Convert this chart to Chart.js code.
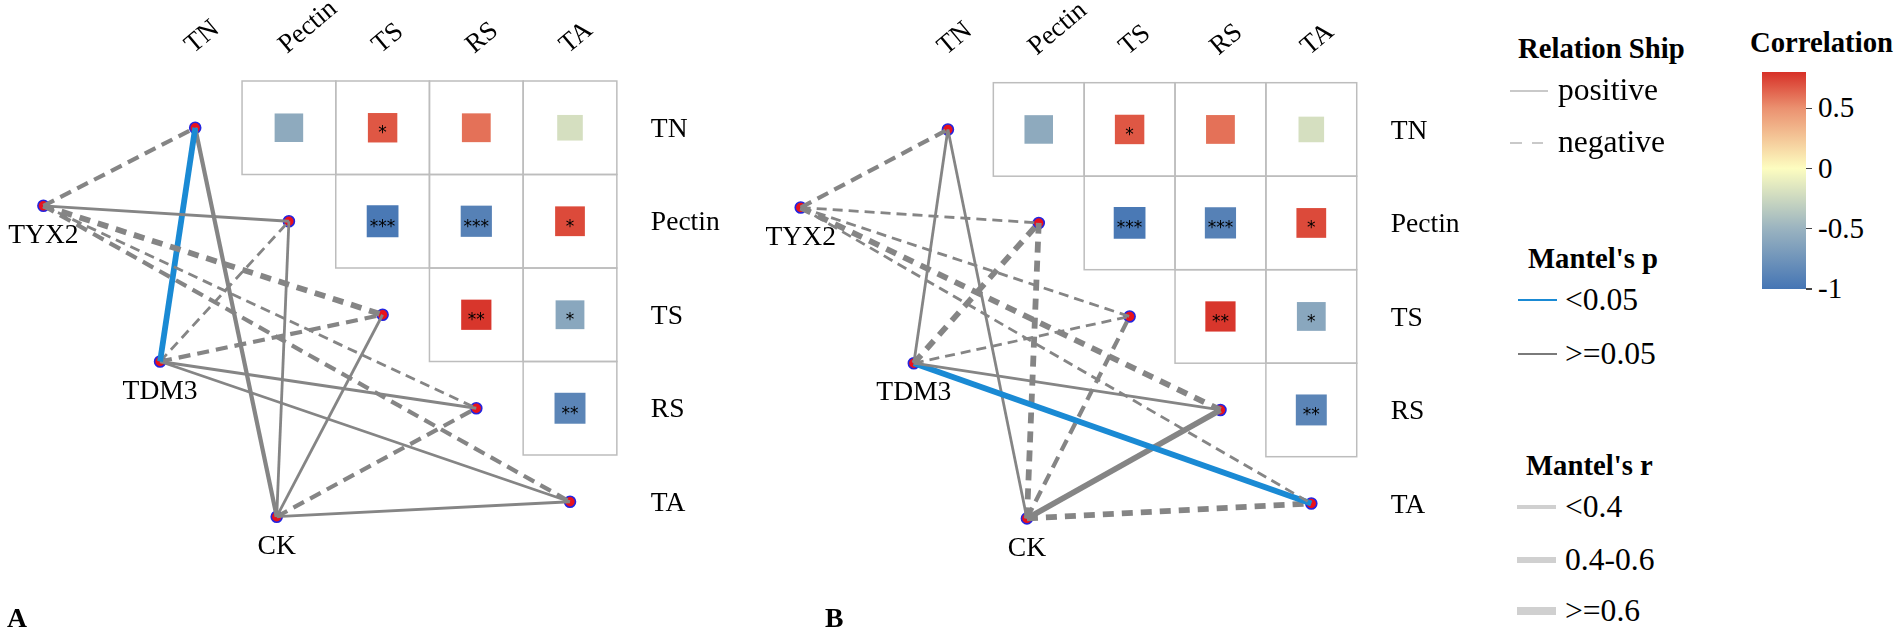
<!DOCTYPE html>
<html>
<head>
<meta charset="utf-8">
<script src="https://cdn.jsdelivr.net/npm/chart.js@4.4.1/dist/chart.umd.min.js"></script>
<style>
  html, body { margin: 0; padding: 0; background: #ffffff; }
  #wrap { position: relative; width: 1902px; height: 632px; overflow: hidden; color: #000; }
  .cv { position: absolute; top: 0; }
  .lg { position: absolute; white-space: nowrap; line-height: 1; }
</style>
</head>
<body>
<div id="wrap">
  <canvas id="chartA" class="cv" width="740" height="632" style="left:0px"></canvas>
  <canvas id="chartB" class="cv" width="776" height="632" style="left:740px"></canvas>
  <div id="legend"></div>
</div>
<script>
// ---------------- DATA ----------------
const variables = ['TN', 'Pectin', 'TS', 'RS', 'TA'];
const groups = ['TYX2', 'TDM3', 'CK'];

// Pairwise correlation between quality traits (rows follow `variables`)
const corrTN     = [ 1.00, -0.57,  0.68,  0.60, -0.20];
const corrPectin = [-0.57,  1.00, -0.97, -0.90,  0.72];
const corrTS     = [ 0.68, -0.97,  1.00,  0.78, -0.60];
const corrRS     = [ 0.60, -0.90,  0.78,  1.00, -0.87];
const corrTA     = [-0.20,  0.72, -0.60, -0.87,  1.00];
const corrRows = [corrTN, corrPectin, corrTS, corrRS, corrTA];

// Significance marks of the correlations
const sigTN     = ['', '', '*', '', ''];
const sigPectin = ['', '', '***', '***', '*'];
const sigTS     = ['', '', '', '**', '*'];
const sigRS     = ['', '', '', '', '**'];
const sigTA     = ['', '', '', '', ''];
const sigRows = [sigTN, sigPectin, sigTS, sigRS, sigTA];

// Mantel tests: r (sign = relationship) and p, group vs TN, Pectin, TS, RS, TA
const mantelR_A_TYX2 = [-0.45,  0.30, -0.65, -0.25, -0.48];
const mantelP_A_TYX2 = [ 0.21,  0.34,  0.12,  0.46,  0.18];
const mantelR_A_TDM3 = [ 0.62, -0.25, -0.45,  0.30,  0.30];
const mantelP_A_TDM3 = [ 0.03,  0.41,  0.22,  0.35,  0.38];
const mantelR_A_CK   = [ 0.42,  0.28,  0.25, -0.45,  0.25];
const mantelP_A_CK   = [ 0.16,  0.39,  0.44,  0.20,  0.42];

const mantelR_B_TYX2 = [-0.45, -0.25, -0.25, -0.62, -0.25];
const mantelP_B_TYX2 = [ 0.19,  0.43,  0.47,  0.11,  0.45];
const mantelR_B_TDM3 = [ 0.25, -0.62, -0.25,  0.25,  0.65];
const mantelP_B_TDM3 = [ 0.38,  0.14,  0.45,  0.40,  0.02];
const mantelR_B_CK   = [ 0.25, -0.65, -0.42,  0.65, -0.65];
const mantelP_B_CK   = [ 0.41,  0.10,  0.17,  0.09,  0.08];

const colorbarTicks = [-1, -0.5, 0, 0.5];
const colorbarRange = [-1, 0.8];

// ---------------- LAYOUT / STYLE ----------------
const groupGridX = [-1.62, -0.375, 0.87];
const groupGridY = [0.835, 2.50, 4.16];

const SERIF_CANDIDATES = ['Liberation Serif', 'Tinos', 'Times New Roman', 'DejaVu Serif'];
const mctx = document.createElement('canvas').getContext('2d');
function hasFont(f) {
  const s = 'mmmmmmmmmmlliWWQ@#';
  mctx.font = '72px monospace'; const a = mctx.measureText(s).width;
  mctx.font = `72px "${f}", monospace`; const b = mctx.measureText(s).width;
  mctx.font = '72px sans-serif'; const c = mctx.measureText(s).width;
  mctx.font = `72px "${f}", sans-serif`; const d = mctx.measureText(s).width;
  return a !== b || c !== d;
}
const foundSerif = SERIF_CANDIDATES.filter(hasFont);
const SERIF = foundSerif.map(f => `"${f}"`).concat(['serif']).join(', ');
function fit(weight, sample, targetW) {
  mctx.font = `${weight} 100px ${SERIF}`;
  return 100 * targetW / mctx.measureText(sample).width;
}
const FS_ROW = fit('normal', 'TDM3', 75);
const FS_COL = fit('normal', 'Pectin', 67);
const FS_LETTER = fit('bold', 'A', 20);
const FS_TITLE = fit('bold', "Mantel's p", 130);
const FS_LABEL = fit('normal', 'negative', 107);
const FS_TICK = fit('normal', '-0.5', 46);

const GRID_COLOR = '#bdbdbd';
const EDGE_GRAY = '#858585';
const EDGE_BLUE = '#1a8ad4';
const NODE_FILL = '#e8121c';
const NODE_EDGE = '#2424e0';
const CORR_STOPS = [[-1, '#4575b4'], [-0.5, '#9ab3c0'], [0, '#fdfdc0'], [0.5, '#eb9170'], [0.8, '#d73027']];

function hex2rgb(h) { return [1, 3, 5].map(k => parseInt(h.substr(k, 2), 16)); }
function colorFor(v) {
  const s = CORR_STOPS;
  if (v <= s[0][0]) return s[0][1];
  for (let k = 1; k < s.length; k++) {
    if (v <= s[k][0]) {
      const t = (v - s[k - 1][0]) / (s[k][0] - s[k - 1][0]);
      const a = hex2rgb(s[k - 1][1]), b = hex2rgb(s[k][1]);
      const c = a.map((av, q) => Math.round(av + (b[q] - av) * t));
      return `rgb(${c[0]},${c[1]},${c[2]})`;
    }
  }
  return s[s.length - 1][1];
}
function widthFor(r) { const a = Math.abs(r); return a < 0.4 ? 2.8 : (a < 0.6 ? 4.2 : 5.8); }
function dashFor(w) { return w < 3 ? [10, 6] : (w < 5 ? [12, 7] : [11, 8]); }
function nodePos(name) {
  const vi = variables.indexOf(name);
  if (vi >= 0) return { x: vi, y: vi };
  const gi = groups.indexOf(name);
  return { x: groupGridX[gi], y: groupGridY[gi] };
}

const PANELS = [
  { id: 'chartA', w: 740, h: 632, ox: 195.2, oy: 127.75, cw: 93.7, ch: 93.5, letter: 'A', letterX: 7,
    R: [mantelR_A_TYX2, mantelR_A_TDM3, mantelR_A_CK], P: [mantelP_A_TYX2, mantelP_A_TDM3, mantelP_A_CK] },
  { id: 'chartB', w: 776, h: 632, ox: 207.9, oy: 129.45, cw: 90.85, ch: 93.5, letter: 'B', letterX: 85,
    R: [mantelR_B_TYX2, mantelR_B_TDM3, mantelR_B_CK], P: [mantelP_B_TYX2, mantelP_B_TDM3, mantelP_B_CK] }
];

function makeDecor(panel) {
  return {
    id: 'decor' + panel.letter,
    beforeDatasetsDraw(chart) {
      const { ctx, scales: { x, y } } = chart;
      ctx.save();
      ctx.strokeStyle = GRID_COLOR;
      ctx.lineWidth = 1.5;
      for (let i = 0; i < variables.length; i++) {
        for (let j = i + 1; j < variables.length; j++) {
          const x0 = x.getPixelForValue(j - 0.5), x1 = x.getPixelForValue(j + 0.5);
          const y0 = y.getPixelForValue(i - 0.5), y1 = y.getPixelForValue(i + 0.5);
          ctx.strokeRect(x0, y0, x1 - x0, y1 - y0);
        }
      }
      ctx.restore();
    },
    afterDatasetsDraw(chart) {
      const { ctx, scales: { x, y } } = chart;
      ctx.save();
      ctx.fillStyle = '#000';
      ctx.font = '17px "DejaVu Sans", sans-serif';
      ctx.textAlign = 'center';
      ctx.textBaseline = 'alphabetic';
      for (let i = 0; i < variables.length; i++) {
        for (let j = i + 1; j < variables.length; j++) {
          const s = sigRows[i][j];
          if (s) ctx.fillText(s, x.getPixelForValue(j), y.getPixelForValue(i) + 10.5);
        }
      }
      // row labels (right side)
      ctx.font = `${FS_ROW}px ${SERIF}`;
      ctx.textAlign = 'left';
      const gridRight = x.getPixelForValue(variables.length - 0.5);
      variables.forEach((v, i) => ctx.fillText(v, gridRight + 34, y.getPixelForValue(i) + 0.33 * FS_ROW));
      // column labels (rotated)
      const gridTop = y.getPixelForValue(-0.5);
      ctx.font = `${FS_COL}px ${SERIF}`;
      variables.forEach((v, j) => {
        ctx.save();
        ctx.translate(x.getPixelForValue(j) - 2, gridTop - 27);
        ctx.rotate(-40 * Math.PI / 180);
        ctx.fillText(v, 0, 0);
        ctx.restore();
      });
      // group node labels
      ctx.font = `${FS_ROW}px ${SERIF}`;
      ctx.textAlign = 'center';
      groups.forEach(g => {
        const p = nodePos(g);
        ctx.fillText(g, x.getPixelForValue(p.x), y.getPixelForValue(p.y) + 28 + 0.33 * FS_ROW);
      });
      // panel letter
      ctx.font = `bold ${FS_LETTER}px ${SERIF}`;
      ctx.textAlign = 'left';
      ctx.fillText(panel.letter, panel.letterX, 627);
      ctx.restore();
    }
  };
}

function buildPanel(panel) {
  const datasets = [];
  groups.forEach((g, gi) => {
    variables.forEach((v, vi) => {
      const r = panel.R[gi][vi], p = panel.P[gi][vi];
      const w = widthFor(r);
      datasets.push({
        label: g + '-' + v,
        data: [nodePos(g), nodePos(v)],
        showLine: true,
        pointRadius: 0, pointHoverRadius: 0,
        borderColor: p < 0.05 ? EDGE_BLUE : EDGE_GRAY,
        borderWidth: w,
        borderDash: r < 0 ? dashFor(w) : [],
        borderCapStyle: 'butt',
        tension: 0, order: 0, clip: false
      });
    });
  });
  const nodes = variables.map(v => nodePos(v)).concat(groups.map(g => nodePos(g)));
  datasets.push({
    label: 'nodes', data: nodes, pointStyle: 'circle',
    pointRadius: 5.5, pointHoverRadius: 5.5,
    pointBackgroundColor: NODE_FILL, pointBorderColor: NODE_EDGE, pointBorderWidth: 1.6,
    order: 1, clip: false
  });
  const sq = [], sqVal = [];
  for (let i = 0; i < variables.length; i++) {
    for (let j = i + 1; j < variables.length; j++) {
      sq.push({ x: j, y: i });
      sqVal.push(corrRows[i][j]);
    }
  }
  const sqRadius = c => (24 + 8 * Math.abs(sqVal[c.dataIndex])) / (2 * Math.SQRT1_2);
  datasets.push({
    label: 'corr', data: sq, pointStyle: 'rect',
    pointRadius: sqRadius, pointHoverRadius: sqRadius,
    pointBackgroundColor: c => colorFor(sqVal[c.dataIndex]),
    pointBorderWidth: 0,
    order: 2, clip: false
  });

  new Chart(document.getElementById(panel.id), {
    type: 'scatter',
    data: { datasets },
    options: {
      responsive: false,
      animation: false,
      events: [],
      layout: { padding: 0, autoPadding: false },
      plugins: { legend: { display: false }, tooltip: { enabled: false } },
      scales: {
        x: { type: 'linear', display: false, min: -panel.ox / panel.cw, max: (panel.w - panel.ox) / panel.cw },
        y: { type: 'linear', display: false, reverse: true, min: -panel.oy / panel.ch, max: (panel.h - panel.oy) / panel.ch }
      }
    },
    plugins: [makeDecor(panel)]
  });
}
PANELS.forEach(buildPanel);

// ---------------- LEGEND (HTML) ----------------
const legend = document.getElementById('legend');
function addText(txt, left, baseline, size, bold) {
  const d = document.createElement('div');
  d.className = 'lg';
  d.textContent = txt;
  d.style.fontFamily = SERIF;
  d.style.left = left + 'px';
  d.style.top = (baseline - 0.85 * size) + 'px';
  d.style.fontSize = size + 'px';
  if (bold) d.style.fontWeight = 'bold';
  legend.appendChild(d);
}
function addLine(left, width, cy, thick, color, dashed) {
  const d = document.createElement('div');
  d.style.position = 'absolute';
  d.style.left = left + 'px';
  d.style.top = (cy - thick / 2) + 'px';
  d.style.width = width + 'px';
  d.style.height = thick + 'px';
  d.style.background = dashed
    ? `repeating-linear-gradient(to right, ${color} 0 11.7px, transparent 11.7px 21.7px)`
    : color;
  legend.appendChild(d);
}
addText('Relation Ship', 1518, 58, FS_TITLE, true);
addLine(1510, 38, 91, 1.5, '#c9c9c9', false);
addText('positive', 1558, 101, FS_LABEL);
addLine(1510, 34, 143, 1.5, '#c9c9c9', true);
addText('negative', 1558, 153, FS_LABEL);

addText("Mantel's p", 1528, 268, FS_TITLE, true);
addLine(1518, 39, 300, 2.2, EDGE_BLUE, false);
addText('<0.05', 1565, 311, FS_LABEL);
addLine(1518, 39, 354, 2.2, '#7a7a7a', false);
addText('>=0.05', 1565, 365, FS_LABEL);

addText("Mantel's r", 1526, 475, FS_TITLE, true);
const rLabels = ['<0.4', '0.4-0.6', '>=0.6'];
const rThick = [4.5, 6.3, 8];
const rY = [507, 560, 611];
rLabels.forEach((t, k) => {
  addLine(1517, 39, rY[k], rThick[k], '#d0d0d0', false);
  addText(t, 1565, rY[k] + 11, FS_LABEL);
});

addText('Correlation', 1750, 52, FS_TITLE, true);
const cbTop = 72, cbBottom = 289, cbLeft = 1762, cbW = 44;
const cbY = v => cbBottom - (v - colorbarRange[0]) / (colorbarRange[1] - colorbarRange[0]) * (cbBottom - cbTop);
const bar = document.createElement('div');
bar.style.position = 'absolute';
bar.style.left = cbLeft + 'px';
bar.style.top = cbTop + 'px';
bar.style.width = cbW + 'px';
bar.style.height = (cbBottom - cbTop) + 'px';
const gstops = CORR_STOPS.map(([v, c]) =>
  `${c} ${((v - colorbarRange[0]) / (colorbarRange[1] - colorbarRange[0]) * 100).toFixed(2)}%`).join(', ');
bar.style.background = `linear-gradient(to top, ${gstops})`;
legend.appendChild(bar);
colorbarTicks.forEach(v => {
  const ty = cbY(v);
  addLine(cbLeft + cbW, 6, ty, 1.3, '#444', false);
  addText(String(v), 1818, ty + 10, FS_TICK);
});
</script>
</body>
</html>
